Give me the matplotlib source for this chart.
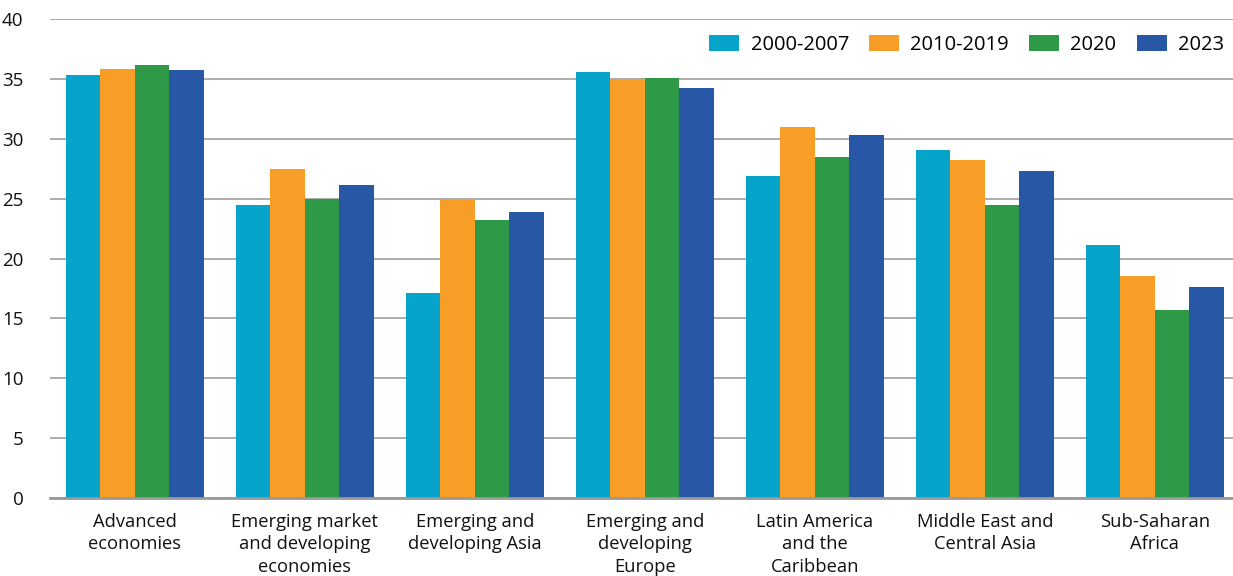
import matplotlib
matplotlib.use("Agg")
import numpy as np
from matplotlib import pyplot as plt

plt.rcParams['font.family'] = ['Open Sans', 'DejaVu Sans']

categories = ["Advanced\neconomies", "Emerging market\nand developing\neconomies",
              "Emerging and\ndeveloping Asia", "Emerging and\ndeveloping\nEurope",
              "Latin America\nand the\nCaribbean", "Middle East and\nCentral Asia",
              "Sub-Saharan\nAfrica"]
series_names = ["2000-2007", "2010-2019", "2020", "2023"]
v_2000_2007 = [35.3, 24.5, 17.1, 35.6, 26.9, 29.1, 21.1]
v_2010_2019 = [35.8, 27.5, 25.0, 35.0, 31.0, 28.2, 18.5]
v_2020 = [36.2, 25.0, 23.2, 35.1, 28.5, 24.5, 15.7]
v_2023 = [35.7, 26.1, 23.9, 34.2, 30.3, 27.3, 17.6]
colors = ["#06A3CB", "#F89E27", "#2E9A47", "#2857A5"]

fig = plt.figure(figsize=(12.33, 5.76), dpi=100)
ax = fig.add_axes([50 / 1233, 1 - 498 / 576, 1 - 50 / 1233, (498 - 19) / 576])

x = np.arange(len(categories))
w = 0.203
all_vals = [v_2000_2007, v_2010_2019, v_2020, v_2023]
for i, (vals, name, c) in enumerate(zip(all_vals, series_names, colors)):
    ax.bar(x + (i - 1.5) * w, vals, width=w, color=c, label=name, zorder=3)

ax.set_ylim(0, 40)
ax.set_xlim(-0.5, 6.46)
ax.set_yticks(range(0, 41, 5))
ax.yaxis.grid(True, color="#a6a6a6", linewidth=1.3, zorder=0)
ax.set_xticks(x)
ax.set_xticklabels(categories, fontsize=13.2, linespacing=1.3)
ax.tick_params(axis="both", length=0, colors="#111111")
ax.tick_params(axis="x", pad=11)
ax.tick_params(axis="y", pad=19, labelsize=13.5)
for s in ["top", "right", "left"]:
    ax.spines[s].set_visible(False)
ax.spines["bottom"].set_color("#999999")
ax.spines["bottom"].set_linewidth(2)
ax.spines["bottom"].set_zorder(4)

ax.legend(loc="upper right", ncol=4, frameon=False, fontsize=14.5,
          bbox_to_anchor=(1.0, 0.985), handlelength=1.5, handleheight=0.85,
          columnspacing=1.0, handletextpad=0.55, borderaxespad=0.05)

fig.savefig("out.png", dpi=100)
